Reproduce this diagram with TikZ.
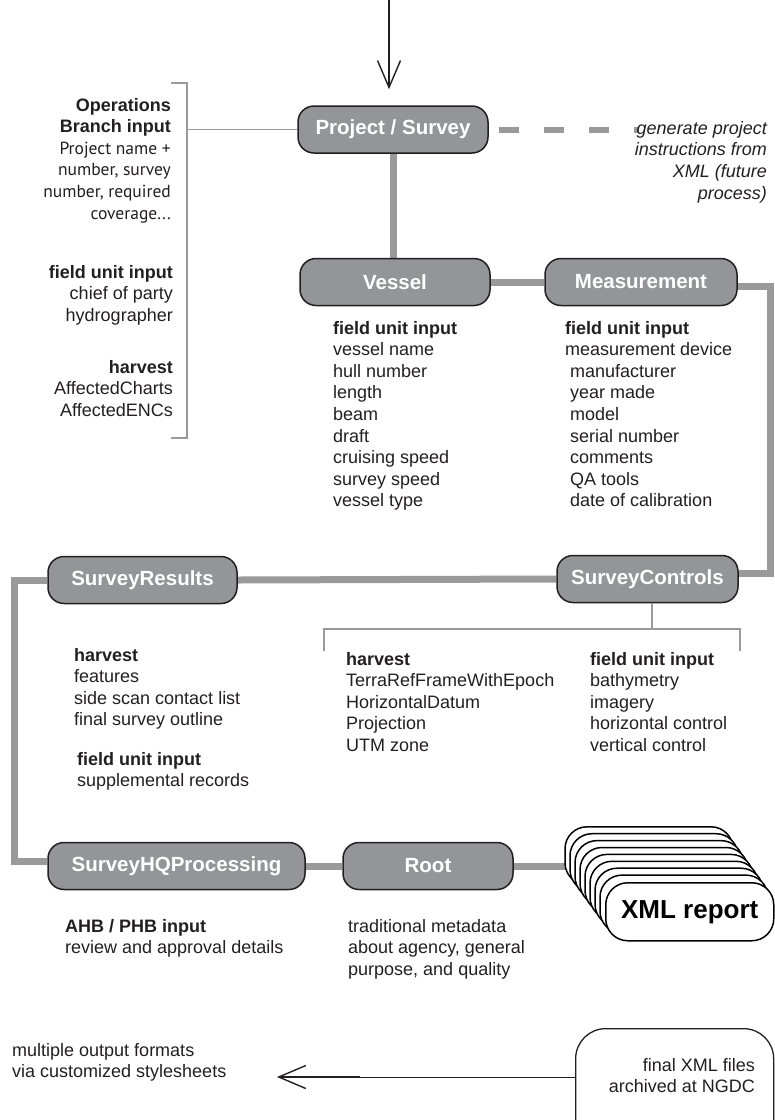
\documentclass[tikz,border=0pt]{standalone}
\usepackage{fontspec}
\setmainfont{Liberation Sans}
\newfontfamily\humfont{PT Sans}
\usetikzlibrary{arrows.meta,calc,backgrounds}
\definecolor{nodegray}{HTML}{939598}
\definecolor{conngray}{HTML}{9A9A9A}
\definecolor{ink}{HTML}{231F20}
\begin{document}
\begin{tikzpicture}[x=1pt,y=-1pt,
 box/.style={draw=ink,line width=1.5pt,fill=nodegray,rounded corners=16pt,minimum height=47pt,inner sep=0pt,text=white,font=\bfseries\fontsize{20.5}{24}\selectfont},
 link/.style={draw=conngray,line width=7pt},
 fine/.style={draw=conngray,line width=1.6pt},
 ltxt/.style={align=left,anchor=base west,inner sep=0pt,font=\fontsize{18}{21.6}\selectfont,text=ink},
 rtxt/.style={align=right,anchor=base east,inner sep=0pt,font=\fontsize{18}{21.6}\selectfont,text=ink},
 stackbox/.style={draw=black,line width=1.5pt,fill=white,rounded corners=22pt,minimum width=168pt,minimum height=58pt,inner sep=0pt,anchor=north west},
 arrowline/.style={draw=ink,line width=1.4pt,-{Straight Barb[length=27pt,width=23pt,line width=1.4pt]}},
]
\useasboundingbox (0,0) rectangle (775,1120);
\clip (0,0) rectangle (775,1120);

% main nodes
\node[box,minimum width=190pt] (proj) at (393,129.5) {Project / Survey};
\node[box,minimum width=190pt] (vessel) at (395,282) {Vessel};
\node[box,minimum width=192pt] (meas) at (641,282) {Measurement};
\node[box,minimum width=189pt] (sres) at (142.5,580) {SurveyResults};
\node[box,minimum width=181pt] (sctl) at (647.5,579) {SurveyControls};
\node[box,minimum width=257pt] (hq) at (176.5,866) {SurveyHQProcessing};
\node[box,minimum width=170pt] (root) at (428,866) {Root};

% XML report stack
\foreach \i in {8,7,...,1}
  \draw[draw=black,line width=1.5pt,fill=white,rounded corners=22pt] ({605-5*\i},{882-6.9*\i}) rectangle ++(168,58);
\node[stackbox,font=\bfseries\fontsize{26}{30}\selectfont] (xml) at (605,882) {XML report};

% helper coordinates
\coordinate (topin) at (389,-2);
\coordinate (brtop) at (187,83);
\coordinate (brbot) at (187,438);
\coordinate (brtopl) at (171,83);
\coordinate (brbotl) at (171,438);
\coordinate (dashend) at (639,129.5);
\coordinate (rline) at (770,0);
\coordinate (lline) at (14,0);
\coordinate (scb) at (652,629);
\coordinate (scbl) at (324,629);
\coordinate (scbr) at (740,629);
\coordinate (scbld) at (324,651);
\coordinate (scbrd) at (740,651);
\coordinate (measout) at ([yshift=-4pt]meas.east);
\coordinate (sctlin) at ([yshift=6pt]sctl.east);
\coordinate (hqin) at ([yshift=5pt]hq.west);

% connectors
\begin{scope}[on background layer]
\draw[link] (proj.south) -- (proj.south |- vessel.north);
\draw[link] (vessel.east) -- (meas.west);
\draw[link] (measout) -- (measout -| rline) -- (rline |- sctlin) -- (sctlin);
\draw[link] (sres.east) -- (sctl.west);
\draw[link] (sres.west) -- (sres.west -| lline) -- (lline |- hqin) -- (hqin);
\draw[link] (hq.east) -- (root.west);
\draw[link] (root.east) -- (xml.west |- root.east);
\end{scope}
\draw[link,line width=6pt,dash pattern=on 20pt off 25pt] ([xshift=10pt]proj.east) -- (dashend);

\draw[arrowline] (topin) -- ($(topin |- proj.north)+(0,-16)$);

% left bracket
\draw[fine] (brtopl) -- (brtop) -- (brbot) -- (brbotl);
\draw[fine] (proj.west) -- (proj.west -| brtop);

% SurveyControls bracket
\draw[fine] (sctl.south -| scb) -- (scb);
\draw[fine] (scbld) -- (scbl) -- (scbr) -- (scbrd);

% left texts (anchor = baseline of last line)
\node[rtxt] (ops) at (171,219) {\textbf{Operations}\\\textbf{Branch input}\\{\humfont\fontsize{17.5}{21.6}\selectfont Project name +}\\{\humfont\fontsize{17.5}{21.6}\selectfont number, survey}\\{\humfont\fontsize{17.5}{21.6}\selectfont number, required}\\{\humfont\fontsize{17.5}{21.6}\selectfont coverage...}};
\node[rtxt] (lfield) at (173,321.2) {\textbf{field unit input}\\chief of party\\hydrographer};
\node[rtxt] (lharv) at (173,416.2) {\textbf{harvest}\\AffectedCharts\\AffectedENCs};

% right italic text
\node[rtxt,font=\itshape\fontsize{18}{21.8}\selectfont] (future) at (767,199.4) {generate project\\instructions from\\XML (future\\process)};

% column texts
\node[ltxt] (vtxt) at (333,506.8) {\textbf{field unit input}\\vessel name\\hull number\\length\\beam\\draft\\cruising speed\\survey speed\\vessel type};
\node[ltxt] (mtxt) at (565,506.8) {\textbf{field unit input}\\measurement device\\\hspace*{5pt}manufacturer\\\hspace*{5pt}year made\\\hspace*{5pt}model\\\hspace*{5pt}serial number\\\hspace*{5pt}comments\\\hspace*{5pt}QA tools\\\hspace*{5pt}date of calibration};
\node[ltxt] (srtxt) at (74,725.8) {\textbf{harvest}\\features\\side scan contact list\\final survey outline};
\node[ltxt] (srtxt2) at (77,786.6) {\textbf{field unit input}\\supplemental records};
\node[ltxt] (sctxt1) at (346,751.4) {\textbf{harvest}\\TerraRefFrameWithEpoch\\HorizontalDatum\\Projection\\UTM zone};
\node[ltxt] (sctxt2) at (590,751.4) {\textbf{field unit input}\\bathymetry\\imagery\\horizontal control\\vertical control};
\node[ltxt] (hqtxt) at (65,953.6) {\textbf{AHB / PHB input}\\review and approval details};
\node[ltxt] (roottxt) at (348,975.2) {traditional metadata\\about agency, general\\purpose, and quality};

% bottom
\node[draw=ink,line width=1.3pt,rounded corners=30pt,minimum width=198pt,minimum height=160pt,anchor=north west,inner sep=0pt] (final) at (575,1028) {};
\node[rtxt] (finaltxt) at (755,1092.6) {final XML files\\archived at NGDC};
\coordinate (finalin) at (575,1077);
\coordinate (thickstart) at (360,1077);
\coordinate (outtip) at (277,1077);
\draw[draw=ink,line width=1pt] (finalin) -- (thickstart);
\draw[arrowline,line width=1.8pt] (thickstart) -- (outtip);
\node[ltxt] (outtxt) at (12,1077.6) {multiple output formats\\via customized stylesheets};
\end{tikzpicture}
\end{document}
